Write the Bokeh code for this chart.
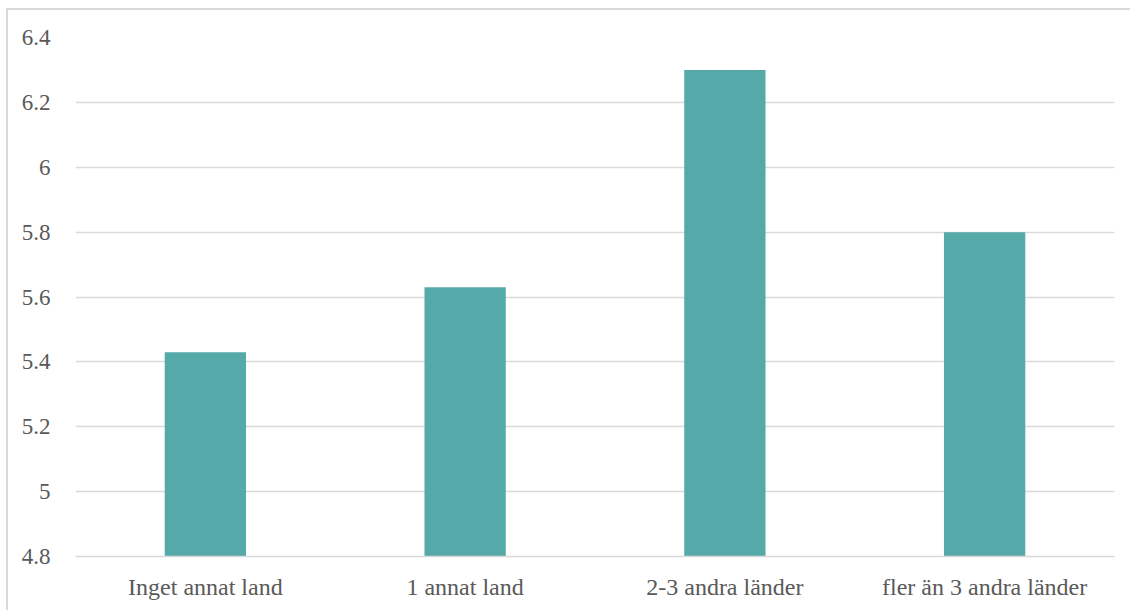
from bokeh.plotting import figure
from bokeh.models import Range1d, FixedTicker, ColumnDataSource, CustomJSTickFormatter
from bokeh.embed import file_html
from bokeh.resources import INLINE

categories = ["Inget annat land", "1 annat land", "2-3 andra länder", "fler än 3 andra länder"]
values = [5.43, 5.63, 6.30, 5.80]
y_ticks = [4.8, 5.0, 5.2, 5.4, 5.6, 5.8, 6.0, 6.2, 6.4]
y_tick_labels = ["4.8", "5", "5.2", "5.4", "5.6", "5.8", "6", "6.2", "6.4"]
y_min, y_max = 4.8, 6.4

FONT = "'Liberation Serif', 'Times New Roman', serif"
TEXT_COLOR = "#595959"
GRID_COLOR = "#D9D9D9"
BAR_COLOR = "#56A9A9"

source = ColumnDataSource(data=dict(cat=categories, val=values, base=[y_min] * len(values)))

p = figure(
    x_range=categories,
    y_range=Range1d(y_min, y_max),
    width=1124, height=602,
    output_backend="svg",
    toolbar_location=None,
    min_border_left=67, min_border_right=18,
    min_border_top=27, min_border_bottom=56,
)
p.margin = (8, 0, 0, 6)
p.styles = {"border-left": "2px solid #D9D9D9", "border-top": "2px solid #D9D9D9"}

p.vbar(x="cat", top="val", bottom="base", width=0.313, source=source,
       fill_color=BAR_COLOR, line_color=None)

p.outline_line_color = None
p.background_fill_color = "white"
p.border_fill_color = "white"

p.xgrid.grid_line_color = None
p.ygrid.grid_line_color = GRID_COLOR
p.ygrid.grid_line_width = 1.5
p.ygrid.ticker = FixedTicker(ticks=y_ticks)

p.yaxis.ticker = FixedTicker(ticks=y_ticks)
p.yaxis.formatter = CustomJSTickFormatter(
    args=dict(tvals=y_ticks, tlabels=y_tick_labels),
    code="""
    for (let i = 0; i < tvals.length; i++) {
        if (Math.abs(tvals[i] - tick) < 1e-9) { return tlabels[i]; }
    }
    return String(tick);
    """)
p.yaxis.axis_line_color = None
p.yaxis.major_tick_line_color = None
p.yaxis.minor_tick_line_color = None
p.yaxis.major_label_standoff = 19
p.yaxis.major_label_text_font = FONT
p.yaxis.major_label_text_font_size = "23px"
p.yaxis.major_label_text_color = TEXT_COLOR

p.xaxis.axis_line_color = GRID_COLOR
p.xaxis.axis_line_width = 1.5
p.xaxis.major_tick_line_color = None
p.xaxis.minor_tick_line_color = None
p.xaxis.major_label_standoff = 11
p.xaxis.major_label_text_font = FONT
p.xaxis.major_label_text_font_size = "24px"
p.xaxis.major_label_text_color = TEXT_COLOR

open("out.html", "w").write(file_html(p, INLINE))
